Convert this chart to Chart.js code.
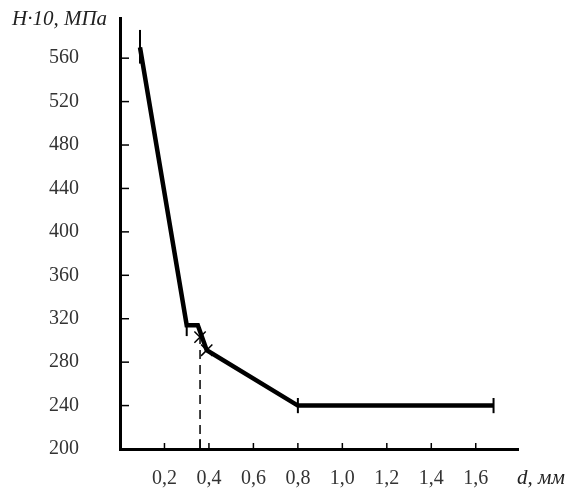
<!DOCTYPE html>
<html><head><meta charset="utf-8">
<script src="https://cdn.jsdelivr.net/npm/chart.js@4"></script>
<style>html,body{margin:0;padding:0;background:#fff}#wrap{width:570px;height:490px}</style>
</head><body><div id="wrap"><canvas id="c" width="570" height="490"></canvas></div>
<script>
// Data
const dValues = [0.09, 0.30, 0.35, 0.39, 0.80, 1.68];
const hValues = [570, 314, 314, 291, 240, 240];
const crossD = [0.36, 0.39];
const crossH = [303, 291];
const errD = [0.09, 0.30, 0.80, 1.68];
const errLow = [555, 304, 233, 233];
const errHigh = [586, 318, 247, 247];
const dashD = [0.36, 0.36];
const dashH = [200, 303];
const yTicks = [200, 240, 280, 320, 360, 400, 440, 480, 520, 560];
const xTicks = [0.2, 0.4, 0.6, 0.8, 1.0, 1.2, 1.4, 1.6];
const markD = 0.36;
const yTitle = 'H·10, МПа';
const xTitle = 'd, мм';

const FONT = '"Liberation Serif", "DejaVu Serif", serif';

const decor = {
  id: 'decor',
  afterDatasetsDraw(chart) {
    const {ctx, scales: {x, y}, chartArea} = chart;
    ctx.save();
    ctx.strokeStyle = '#000';
    // error bars
    ctx.lineWidth = 2;
    errD.forEach((d, i) => {
      const px = x.getPixelForValue(d);
      ctx.beginPath();
      ctx.moveTo(px, y.getPixelForValue(errLow[i]));
      ctx.lineTo(px, y.getPixelForValue(errHigh[i]));
      ctx.stroke();
    });
    // inward y ticks
    ctx.lineWidth = 1.5;
    yTicks.forEach(v => {
      if (v === 200) return;
      const py = y.getPixelForValue(v);
      ctx.beginPath();
      ctx.moveTo(chartArea.left, py);
      ctx.lineTo(chartArea.left + 9, py);
      ctx.stroke();
    });
    // inward x ticks
    xTicks.forEach(v => {
      const px = x.getPixelForValue(v);
      ctx.beginPath();
      ctx.moveTo(px, chartArea.bottom);
      ctx.lineTo(px, chartArea.bottom - 6);
      ctx.stroke();
    });
    const pm = x.getPixelForValue(markD);
    ctx.beginPath();
    ctx.moveTo(pm, chartArea.bottom);
    ctx.lineTo(pm, chartArea.bottom - 10);
    ctx.stroke();
    // titles
    ctx.fillStyle = '#222';
    ctx.font = 'italic 21px ' + FONT;
    ctx.textBaseline = 'middle';
    ctx.textAlign = 'left';
    ctx.fillText(yTitle, 12, 19);
    ctx.fillText(xTitle, 517, 478);
    ctx.restore();
  }
};

new Chart(document.getElementById('c'), {
  type: 'scatter',
  data: {
    datasets: [
      {
        data: dValues.map((d, i) => ({x: d, y: hValues[i]})),
        showLine: true, borderColor: '#000', borderWidth: 4.5,
        pointRadius: 0, tension: 0, borderJoinStyle: 'miter'
      },
      {
        data: dashD.map((d, i) => ({x: d, y: dashH[i]})),
        showLine: true, borderColor: '#000', borderWidth: 1.5,
        borderDash: [9, 6], pointRadius: 0
      },
      {
        data: crossD.map((d, i) => ({x: d, y: crossH[i]})),
        showLine: false, pointStyle: 'crossRot', pointRadius: 8,
        borderColor: '#000', pointBorderWidth: 1.5
      }
    ]
  },
  options: {
    responsive: false,
    animation: false,
    layout: {padding: {top: 18, right: 52, left: 0, bottom: 0}},
    plugins: {legend: {display: false}, tooltip: {enabled: false}},
    scales: {
      x: {
        type: 'linear', min: 0, max: 1.79,
        afterBuildTicks: s => { s.ticks = xTicks.map(v => ({value: v})); },
        afterFit: s => { s.height = 41; },
        grid: {display: true, drawOnChartArea: false, drawTicks: true, tickLength: 18, color: 'rgba(0,0,0,0)'},
        border: {display: true, color: '#000', width: 3},
        ticks: {
          color: '#333', padding: 0,
          font: {family: FONT, size: 20},
          callback: v => v.toFixed(1).replace('.', ',')
        }
      },
      y: {
        type: 'linear', min: 200, max: 597,
        afterBuildTicks: s => { s.ticks = yTicks.map(v => ({value: v})); },
        afterFit: s => { s.width = 120; },
        grid: {display: true, drawOnChartArea: false, drawTicks: true, tickLength: 41, color: 'rgba(0,0,0,0)'},
        border: {display: true, color: '#000', width: 3},
        ticks: {
          color: '#333', padding: 0,
          font: {family: FONT, size: 20}
        }
      }
    }
  },
  plugins: [decor]
});
</script>
</body></html>
